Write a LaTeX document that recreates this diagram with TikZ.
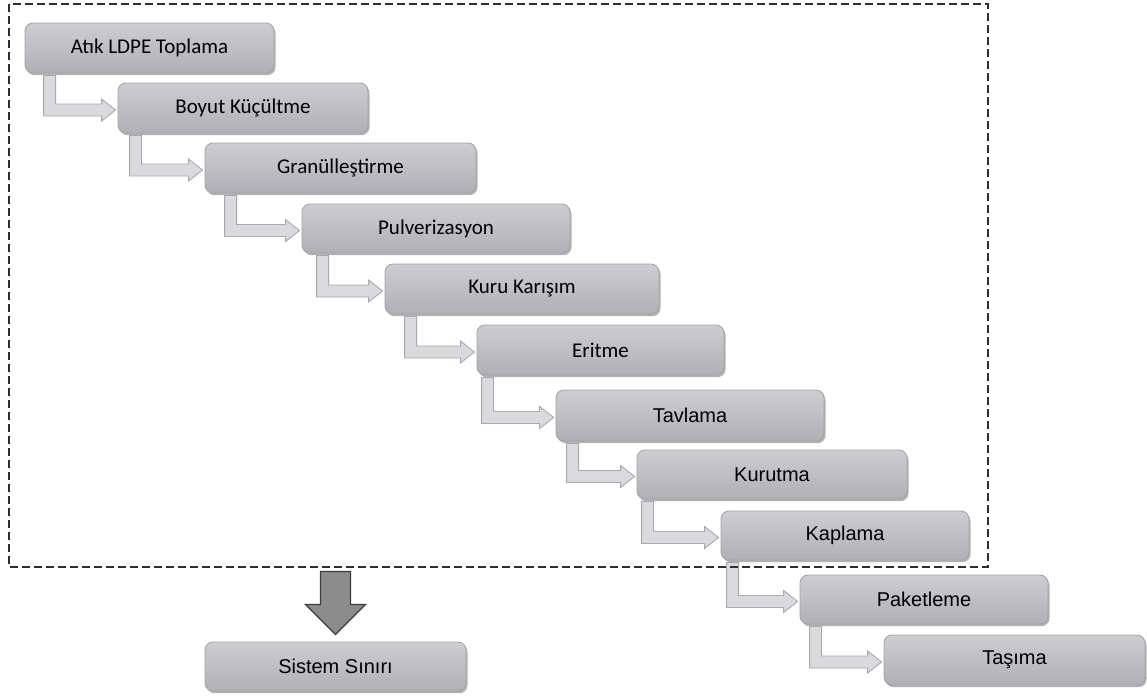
\documentclass[tikz,border=0pt]{standalone}
\usepackage{fontspec}
\setmainfont{Carlito}
\newfontfamily\calibrif{Carlito}
\newfontfamily\arialf{Liberation Sans}
\usetikzlibrary{calc,shadows}
\definecolor{boxtop}{HTML}{CDCDD2}
\definecolor{boxbot}{HTML}{AFAFB5}
\definecolor{boxline}{HTML}{A4A4AB}
\definecolor{arrfill}{HTML}{D9D9DE}
\definecolor{arrline}{HTML}{A8A8B0}
\definecolor{dashcol}{HTML}{2E2E2E}
\definecolor{downfill}{HTML}{8C8C8C}
\definecolor{downline}{HTML}{3C3C3C}
\tikzset{
  procbox/.style={rectangle, rounded corners=8pt, draw=boxline, line width=0.9pt,
    top color=boxtop, bottom color=boxbot, minimum height=50pt, inner sep=0pt,
    text=black,
    drop shadow={shadow xshift=1.5pt, shadow yshift=-2.2pt, fill=black, opacity=0.3}},
  cal/.style={font=\calibrif\fontsize{21pt}{24pt}\selectfont},
  ari/.style={font=\arialf\fontsize{20pt}{23pt}\selectfont},
  bentarrow/.style={fill=arrfill, draw=arrline, line width=0.9pt, line join=miter},
  boundary/.style={draw=dashcol, line width=2.4pt, dash pattern=on 8pt off 4pt},
  downarrow/.style={fill=downfill, draw=downline, line width=1.3pt, line join=miter}
}
\newcommand\bentconn[3]{%
  \path let \p1=(#1.south west), \p2=(#2.west) in
    [bentarrow] (\x1+#3pt,\y1-2pt) -- (\x1+#3pt+12pt,\y1-2pt)
    -- (\x1+#3pt+12pt,\y2+4pt) -- (\x2-16pt,\y2+4pt) -- (\x2-16pt,\y2+9pt)
    -- (\x2-2pt,\y2-2pt) -- (\x2-16pt,\y2-13pt) -- (\x2-16pt,\y2-8pt)
    -- (\x1+#3pt,\y2-8pt) -- cycle;}
\begin{document}
\begin{tikzpicture}[x=1pt,y=1pt]
\useasboundingbox (0,0) rectangle (1147,-697);
\fill[white] (0,0) rectangle (1147,-697);

\node[procbox, cal, minimum width=249pt] (b1) at (149.5,-48) {Atık LDPE Toplama};
\node[procbox, cal, minimum width=250pt] (b2) at (243,-108) {Boyut Küçültme};
\node[procbox, cal, minimum width=271pt] (b3) at (340.5,-168) {Granülleştirme};
\node[procbox, cal, minimum width=268pt, minimum height=49pt] (b4) at (436,-228.5) {Pulverizasyon};
\node[procbox, cal, minimum width=274pt] (b5) at (522,-289) {Kuru Karışım};
\node[procbox, cal, minimum width=247pt] (b6) at (600.5,-350) {Eritme};
\node[procbox, ari, minimum width=268pt, minimum height=51pt] (b7) at (690,-415.5) {Tavlama};
\node[procbox, ari, minimum width=270pt, minimum height=49pt] (b8) at (772,-474.5) {Kurutma};
\node[procbox, ari, minimum width=248pt, minimum height=49pt] (b9) at (845,-535.5) {Kaplama};
\node[procbox, ari, minimum width=248pt, minimum height=49pt] (b10) at (924,-599.5) {Paketleme};
\node[procbox, ari, minimum width=261pt] (b11) at (1014.5,-660) {Taşıma};
\node[procbox, ari, minimum width=261pt, minimum height=49pt] (sys) at (335.5,-666.5) {Sistem Sınırı};

\bentconn{b1}{b2}{19}
\bentconn{b2}{b3}{12}
\bentconn{b3}{b4}{20}
\bentconn{b4}{b5}{15}
\bentconn{b5}{b6}{20}
\bentconn{b6}{b7}{5}
\bentconn{b7}{b8}{11}
\bentconn{b8}{b9}{5}
\bentconn{b9}{b10}{6}
\bentconn{b10}{b11}{10}

\coordinate (bnw) at (9,-4);
\coordinate (bse) at (988,-567);
\draw[boundary] (bnw) rectangle (bse);

\coordinate (tip) at ($(sys.north)+(0,7)$);
\path[downarrow] ($(tip)+(-15,63)$) -- ($(tip)+(15,63)$) -- ($(tip)+(15,30)$)
  -- ($(tip)+(30,30)$) -- (tip) -- ($(tip)+(-30,30)$) -- ($(tip)+(-15,30)$) -- cycle;
\end{tikzpicture}
\end{document}
